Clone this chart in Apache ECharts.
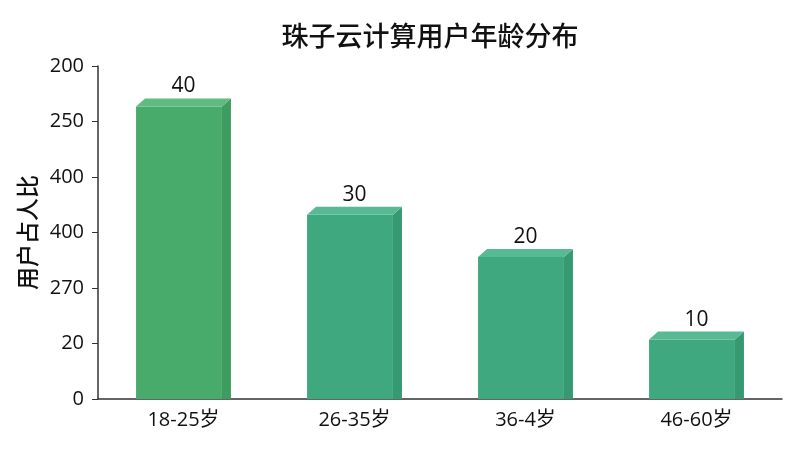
<!DOCTYPE html>
<html><head><meta charset="utf-8">
<script src="https://cdn.jsdelivr.net/npm/echarts@6/dist/echarts.min.js"></script>
<style>html,body{margin:0;padding:0;background:#fff}#c{width:800px;height:450px}</style>
</head><body><div id="c"></div>
<script>
const titleText = '珠子云计算用户年龄分布';
const yAxisName = '用户占人比';
const categories = ['18-25岁', '26-35岁', '36-4岁', '46-60岁'];
const barHeights = [52.7, 33.2, 25.6, 10.7];
const barLabels = [40, 30, 20, 10];
const yTickLabels = ['0', '20', '270', '400', '400', '250', '200'];

const FONT = '"Open Sans", "Noto Sans CJK SC", sans-serif';
const CJK = '"Noto Sans CJK SC", sans-serif';
const palettes = [
  {front: '#48aa6b', top: '#5fbb80', side: '#3e9c60'},
  {front: '#3fa87f', top: '#58ba94', side: '#369971'}
];

const chart = echarts.init(document.getElementById('c'));
chart.setOption({
  backgroundColor: '#fff',
  animation: false,
  title: {
    text: titleText, left: 425, top: 17, textAlign: 'center',
    textStyle: {fontFamily: CJK, fontSize: 27, fontWeight: 500, color: '#111'}
  },
  grid: {left: 98, right: 18, top: 66, bottom: 51},
  xAxis: {
    type: 'category', data: categories,
    axisLine: {lineStyle: {color: '#333', width: 1.5}},
    axisTick: {alignWithLabel: true, length: 6, lineStyle: {color: '#333'}},
    axisLabel: {fontFamily: FONT, fontSize: 20, color: '#111', margin: 11}
  },
  yAxis: {
    type: 'value', min: 0, max: 60, interval: 10,
    name: yAxisName, nameLocation: 'middle', nameGap: 58, nameRotate: 90,
    nameTextStyle: {fontFamily: CJK, fontSize: 23, fontWeight: 500, color: '#111'},
    axisLine: {show: true, lineStyle: {color: '#333', width: 1.5}},
    axisTick: {show: true, length: 6, lineStyle: {color: '#333'}},
    splitLine: {show: false},
    axisLabel: {
      fontFamily: FONT, fontSize: 20, color: '#111', margin: 14,
      formatter: v => yTickLabels[Math.round(v / 10)]
    }
  },
  series: [{
    type: 'custom',
    data: barHeights.map((h, i) => [i, h, barLabels[i]]),
    encode: {x: 0, y: 1},
    renderItem: function (params, api) {
      const i = api.value(0);
      const base = api.coord([i, 0]);
      const top = api.coord([i, api.value(1)]);
      const band = api.size([1, 0])[0];
      const W = band * 0.555, dx = 9, dy = 8;
      const cx = base[0], y0 = base[1], yt = top[1];
      const L = cx - W / 2, R = cx + W / 2;
      const pal = palettes[i === 0 ? 0 : 1];
      return {
        type: 'group',
        children: [
          {type: 'polygon', shape: {points: [[R - dx, yt], [R, yt - dy], [R, y0], [R - dx, y0]]}, style: {fill: pal.side}},
          {type: 'rect', shape: {x: L, y: yt, width: W - dx, height: y0 - yt}, style: {fill: pal.front}},
          {type: 'polygon', shape: {points: [[L, yt], [L + dx, yt - dy], [R, yt - dy], [R - dx, yt]]}, style: {fill: pal.top}},
          {type: 'text', x: cx, y: yt - dy - 12, style: {text: String(api.value(2)), fontFamily: FONT, fontSize: 21, fill: '#111', align: 'center', verticalAlign: 'middle'}}
        ]
      };
    }
  }]
});
</script></body></html>
